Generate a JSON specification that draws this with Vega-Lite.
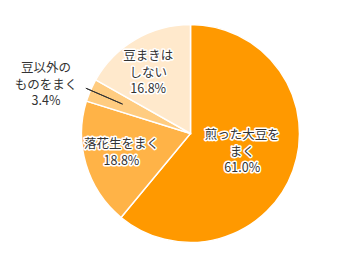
{
  "$schema": "https://vega.github.io/schema/vega-lite/v6.json",
  "width": 309,
  "height": 267,
  "autosize": "none",
  "padding": {"left": 36, "top": 0, "right": 0, "bottom": 0},
  "background": "white",
  "config": {"view": {"stroke": null}, "text": {"font": "Noto Sans CJK JP", "fontSize": 12.5, "lineBreak": "\n", "lineHeight": 16.5}},
  "data": {"values": [
    {"key": "a", "label": "煎った大豆を\nまく\n61.0%", "value": 61.0, "order": 1},
    {"key": "b", "label": "落花生をまく\n18.8%", "value": 18.8, "order": 2},
    {"key": "c", "label": "豆以外の\nものをまく\n3.4%", "value": 3.4, "order": 3},
    {"key": "d", "label": "豆まきは\nしない\n16.8%", "value": 16.8, "order": 4}
  ]},
  "encoding": {
    "theta": {"field": "value", "type": "quantitative", "stack": true},
    "order": {"field": "order", "type": "quantitative"}
  },
  "layer": [
    {
      "mark": {"type": "arc", "radius": 109, "stroke": "white", "strokeWidth": 1.5},
      "encoding": {
        "color": {"field": "key", "type": "nominal", "legend": null,
          "scale": {"domain": ["a", "b", "c", "d"], "range": ["#FF9900", "#FFB347", "#FFCC80", "#FFE9CC"]}}
      }
    },
    {
      "mark": {"type": "arc", "radius": 114, "radius2": 74, "padAngle": 0.3, "fill": "white", "fillOpacity": 0, "stroke": "#333333", "strokeWidth": 1},
      "encoding": {
        "strokeOpacity": {"condition": {"test": "datum.key === 'c'", "value": 1}, "value": 0}
      }
    },
    {
      "mark": {"type": "text", "radius": 55, "dy": -17, "stroke": "white", "strokeWidth": 3, "strokeJoin": "round", "fill": "white"},
      "encoding": {"text": {"condition": {"test": "datum.key === 'a'", "field": "label"}, "value": ""}}
    },
    {
      "mark": {"type": "text", "radius": 55, "dy": -17, "fill": "#333333"},
      "encoding": {"text": {"condition": {"test": "datum.key === 'a'", "field": "label"}, "value": ""}}
    },
    {
      "mark": {"type": "text", "radius": 72, "dy": -10, "stroke": "white", "strokeWidth": 3, "strokeJoin": "round", "fill": "white"},
      "encoding": {"text": {"condition": {"test": "datum.key === 'b'", "field": "label"}, "value": ""}}
    },
    {
      "mark": {"type": "text", "radius": 72, "dy": -10, "fill": "#333333"},
      "encoding": {"text": {"condition": {"test": "datum.key === 'b'", "field": "label"}, "value": ""}}
    },
    {
      "mark": {"type": "text", "radius": 72, "dx": -6, "dy": -15, "stroke": "white", "strokeWidth": 3, "strokeJoin": "round", "fill": "white"},
      "encoding": {"text": {"condition": {"test": "datum.key === 'd'", "field": "label"}, "value": ""}}
    },
    {
      "mark": {"type": "text", "radius": 72, "dx": -6, "dy": -15, "fill": "#333333"},
      "encoding": {"text": {"condition": {"test": "datum.key === 'd'", "field": "label"}, "value": ""}}
    },
    {
      "mark": {"type": "text", "radius": 152, "dx": -5, "dy": -5, "fill": "#333333"},
      "encoding": {"text": {"condition": {"test": "datum.key === 'c'", "field": "label"}, "value": ""}}
    }
  ]
}
